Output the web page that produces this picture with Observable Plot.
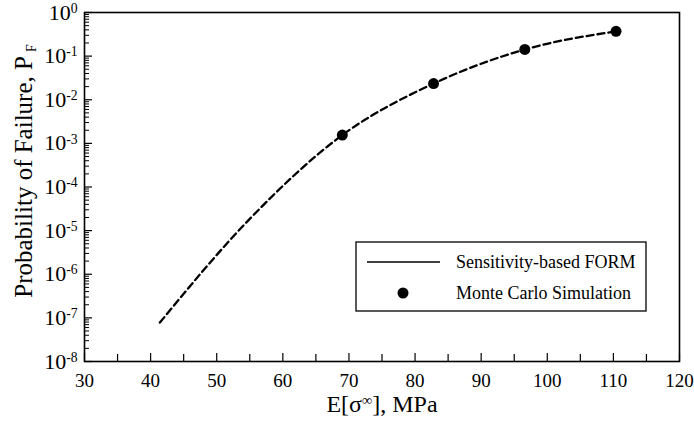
<!DOCTYPE html>
<html>
<head>
<meta charset="utf-8">
<script src="https://cdn.jsdelivr.net/npm/d3@7"></script>
<script src="https://cdn.jsdelivr.net/npm/@observablehq/plot@0.6"></script>
<style>
  html, body { margin: 0; padding: 0; background: #fff; }
  #chart { width: 694px; height: 422px; }
</style>
</head>
<body>
<div id="chart"></div>
<script>
// Sensitivity-based FORM curve (mean stress, MPa -> probability of failure)
const formStress = [41.4, 55.2, 69.0, 82.8, 96.6, 110.4];
const formPf     = [7.8e-8, 2.0e-5, 1.55e-3, 2.35e-2, 1.42e-1, 3.7e-1];
// Monte Carlo simulation points
const mcStress = [69.0, 82.8, 96.6, 110.4];
const mcPf     = [1.55e-3, 2.35e-2, 1.42e-1, 3.7e-1];
// Axis ticks
const xMajorTicks = [30, 40, 50, 60, 70, 80, 90, 100, 110, 120];
const xMinorTicks = [35, 45, 55, 65, 75, 85, 95, 105, 115];
const yMajorTicks = [1e-8, 1e-7, 1e-6, 1e-5, 1e-4, 1e-3, 1e-2, 1e-1, 1];
const legendLabels = ["Sensitivity-based FORM", "Monte Carlo Simulation"];
const xTitle = ["E[σ", "∞", "], MPa"];
const yTitle = ["Probability of Failure, P", "F"];

const W = 694, H = 422;
const mL = 84, mR = 15, mT = 12, mB = 61;
const innerW = W - mL - mR, innerH = H - mT - mB;
const FONT = "'Liberation Serif', 'Times New Roman', serif";

const yMinorTicks = [];
for (let e = -8; e < 0; e++) for (let k = 2; k <= 9; k++) yMinorTicks.push(k * Math.pow(10, e));

const formData = formStress.map((x, i) => ({x, y: formPf[i]}));
const mcData = mcStress.map((x, i) => ({x, y: mcPf[i]}));

const chart = Plot.plot({
  width: W, height: H,
  marginLeft: mL, marginRight: mR, marginTop: mT, marginBottom: mB,
  style: {fontFamily: FONT, background: "#fff", color: "#000"},
  x: {domain: [30, 120]},
  y: {type: "log", domain: [1e-8, 1]},
  marks: [
    Plot.ruleX(xMajorTicks, {x: d => d, insetTop: innerH - 8, stroke: "#000", strokeWidth: 1.2}),
    Plot.ruleX(xMinorTicks, {x: d => d, insetTop: innerH - 7, stroke: "#000", strokeWidth: 1.2}),
    Plot.ruleY(yMajorTicks, {y: d => d, insetRight: innerW - 8, stroke: "#000", strokeWidth: 1.2}),
    Plot.ruleY(yMinorTicks, {y: d => d, insetRight: innerW - 5, stroke: "#000", strokeWidth: 1}),
    Plot.frame({stroke: "#000", strokeWidth: 1.6}),
    Plot.axisX({ticks: xMajorTicks, tickSize: 0, tickPadding: 12, fontSize: 19, label: null, tickFormat: d => String(d)}),
    Plot.axisY({ticks: yMajorTicks, tickSize: 0, tickPadding: 7, fontSize: 22, label: null, tickFormat: d => String(Math.round(Math.log10(d)))}),
    Plot.line(formData, {x: "x", y: "y", curve: "monotone-x", stroke: "#000", strokeWidth: 2.3, strokeDasharray: "7,4"}),
    Plot.dot(mcData, {x: "x", y: "y", r: 5.5, fill: "#000", stroke: "none"}),
    Plot.text([xTitle.join("")], {frameAnchor: "bottom", textAnchor: "middle", lineAnchor: "middle", dy: 43, fontSize: 24, fill: "#000"}),
    Plot.text([yTitle.join("")], {frameAnchor: "left", textAnchor: "middle", lineAnchor: "middle", dx: -61, dy: -16, rotate: -90, fontSize: 25, fill: "#000"})
  ]
});

document.getElementById("chart").appendChild(chart);
const svg = d3.select(chart);

// y tick labels as 10^n
svg.selectAll('g[aria-label="y-axis tick label"] text').each(function() {
  const t = d3.select(this);
  const exp = t.text();
  t.text("");
  t.append("tspan").text("10");
  t.append("tspan").attr("dy", "-0.5em").attr("font-size", "0.62em").text(exp);
});

// x title with superscript
svg.selectAll("text").filter(function() { return this.textContent === xTitle.join(""); }).each(function() {
  const t = d3.select(this);
  t.text("");
  t.append("tspan").text(xTitle[0]);
  t.append("tspan").attr("dy", "-0.5em").attr("font-size", "0.6em").text(xTitle[1]);
  t.append("tspan").attr("dy", "0.3em").text(xTitle[2]);
});

// y title with subscript
svg.selectAll("text").filter(function() { return this.textContent === yTitle.join(""); }).each(function() {
  const t = d3.select(this);
  t.text("");
  t.append("tspan").text(yTitle[0]);
  t.append("tspan").attr("dx", "0.3em").attr("dy", "0.3em").attr("font-size", "0.55em").text(yTitle[1]);
});

// Legend box
const lg = svg.append("g").attr("font-family", FONT).attr("font-size", 18).attr("text-anchor", "start");
lg.append("rect").attr("x", 356).attr("y", 242).attr("width", 290).attr("height", 69)
  .attr("fill", "#fff").attr("stroke", "#000").attr("stroke-width", 1.3);
lg.append("line").attr("x1", 367).attr("x2", 440).attr("y1", 262).attr("y2", 262)
  .attr("stroke", "#000").attr("stroke-width", 1.5);
lg.append("text").attr("x", 456).attr("y", 262).attr("dy", "0.35em").attr("text-anchor", "start").text(legendLabels[0]);
lg.append("circle").attr("cx", 403).attr("cy", 293).attr("r", 5.5).attr("fill", "#000");
lg.append("text").attr("x", 456).attr("y", 293).attr("dy", "0.35em").attr("text-anchor", "start").text(legendLabels[1]);
</script>
</body>
</html>
